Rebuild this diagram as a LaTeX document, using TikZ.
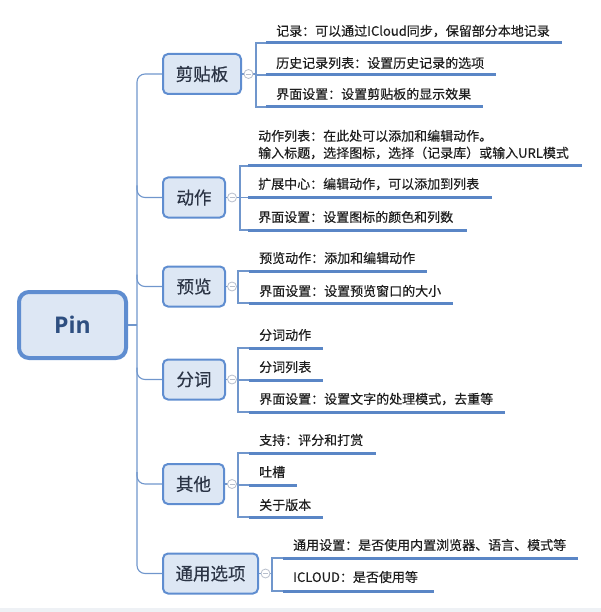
\documentclass[tikz,border=0pt]{standalone}
\usepackage{fontspec}
\setmainfont{Noto Sans CJK SC}[FakeBold=0.35]
\newfontfamily\pinfont{Open Sans}
\definecolor{boxf}{HTML}{DDE7F4}
\definecolor{boxd}{HTML}{5F8DD0}
\definecolor{pintext}{HTML}{2E4F80}
\definecolor{brtext}{HTML}{2B3445}
\definecolor{leaftext}{HTML}{1E1E1E}
\definecolor{ulc}{HTML}{5A86C6}
\definecolor{connc}{HTML}{7096CC}
\definecolor{knobc}{HTML}{B8BFCC}
\definecolor{bandc}{HTML}{EEF1F5}
\begin{document}
\begin{tikzpicture}[x=1pt,y=-1pt,
  conn/.style={draw=connc, line width=1.1pt},
  uline/.style={draw=ulc, line width=3pt},
  branch/.style={draw=boxd, fill=boxf, line width=2pt, rounded corners=5pt, inner sep=0pt,
    minimum height=40pt, font=\fontsize{17.5}{20}\selectfont, text=brtext},
  leaf/.style={inner sep=0pt, anchor=west, font=\fontsize{13}{17}\selectfont, text=leaftext, align=left},
  knob/.style={circle, draw=knobc, fill=white, line width=0.8pt, minimum size=9pt, inner sep=0pt,
    path picture={\draw[knobc, line width=0.8pt] ([xshift=-2.5pt]path picture bounding box.center) -- ([xshift=2.5pt]path picture bounding box.center);}},
]
\useasboundingbox (0,0) rectangle (601,612);
\fill[bandc] (0,608) rectangle (601,612);

% root
\node[draw=boxd, fill=boxf, line width=4pt, rounded corners=10pt, minimum width=107pt, minimum height=66pt,
  inner sep=0pt, text=pintext, font=\pinfont\bfseries\fontsize{23}{26}\selectfont] (root) at (72.5,325) {Pin};
\coordinate (tr) at (137,325);

% branches
\node[branch, minimum width=78pt] (b1) at (202,74) {剪贴板};
\node[branch, minimum width=62pt] (b2) at (194,197.5) {动作};
\node[branch, minimum width=62pt] (b3) at (194,286.5) {预览};
\node[branch, minimum width=62pt] (b4) at (194,379.5) {分词};
\node[branch, minimum width=61pt] (b5) at (193.5,484) {其他};
\node[branch, minimum width=95pt] (b6) at (210.5,573.5) {通用选项};

% trunk
\draw[conn] (root.east) -- (root.east -| tr);
\draw[conn, rounded corners=8pt] (b1.west) -| (tr) |- (b6.west);
\draw[conn, rounded corners=8pt] ([yshift=12pt]b2.west -| tr) |- (b2.west);
\draw[conn, rounded corners=8pt] ([yshift=12pt]b3.west -| tr) |- (b3.west);
\draw[conn, rounded corners=8pt] ([yshift=12pt]b4.west -| tr) |- (b4.west);
\draw[conn, rounded corners=8pt] ([yshift=12pt]b5.west -| tr) |- (b5.west);

% ---------- branch 1 leaves
\node[leaf] (l11) at (276,31) {记录：可以通过ICloud同步，保留部分本地记录};
\node[leaf] (l12) at (276,63) {历史记录列表：设置历史记录的选项};
\node[leaf] (l13) at (276,94) {界面设置：设置剪贴板的显示效果};
\coordinate (u11s) at (266,43); \coordinate (u11e) at (562,43);
\coordinate (u12s) at (266,75); \coordinate (u12e) at (496,75);
\coordinate (u13s) at (266,107); \coordinate (u13e) at (483,107);
\coordinate (v1) at (256,74);
\draw[conn] (u11s) -- (u11s -| v1) -- (u13s -| v1) -- (u13s);
\draw[conn] (b1.east) -- (b1.east -| v1);
\draw[conn] (u12s -| v1) -- (u12s);
\draw[uline] (u11s) -- (u11e);
\draw[uline] (u12s) -- (u12e);
\draw[uline] (u13s) -- (u13e);
\node[knob] (k1) at (248.5,74) {};

% ---------- branch 2 leaves
\node[leaf] (l21) at (258,144.5) {动作列表：在此处可以添加和编辑动作。\\输入标题，选择图标，选择（记录库）或输入URL模式};
\node[leaf] (l22) at (258,184) {扩展中心：编辑动作，可以添加到列表};
\node[leaf] (l23) at (258,217) {界面设置：设置图标的颜色和列数};
\coordinate (u21s) at (248,166); \coordinate (u21e) at (582,166);
\coordinate (u22s) at (248,197.5); \coordinate (u22e) at (492,197.5);
\coordinate (u23s) at (248,230); \coordinate (u23e) at (467,230);
\coordinate (v2) at (240,197);
\draw[conn] (u21s) -- (u21s -| v2) -- (u23s -| v2) -- (u23s);
\draw[conn] (b2.east) -- (b2.east -| v2);
\draw[conn] (u22s -| v2) -- (u22s);
\draw[uline] (u21s) -- (u21e);
\draw[uline] (u22s) -- (u22e);
\draw[uline] (u23s) -- (u23e);
\node[knob] (k2) at (232,197.5) {};

% ---------- branch 3 leaves
\node[leaf] (l31) at (259,258) {预览动作：添加和编辑动作};
\node[leaf] (l32) at (259,291) {界面设置：设置预览窗口的大小};
\coordinate (u31s) at (249,271); \coordinate (u31e) at (427,271);
\coordinate (u32s) at (249,303); \coordinate (u32e) at (453,303);
\coordinate (v3) at (238,287);
\draw[conn] (u31s) -- (u31s -| v3) -- (u32s -| v3) -- (u32s);
\draw[conn] (b3.east) -- (b3.east -| v3);
\draw[uline] (u31s) -- (u31e);
\draw[uline] (u32s) -- (u32e);
\node[knob] (k3) at (232,286.5) {};

% ---------- branch 4 leaves
\node[leaf] (l41) at (259,335) {分词动作};
\node[leaf] (l42) at (259,367) {分词列表};
\node[leaf] (l43) at (259,399) {界面设置：设置文字的处理模式，去重等};
\coordinate (u41s) at (249,348); \coordinate (u41e) at (323,348);
\coordinate (u42s) at (249,380); \coordinate (u42e) at (323,380);
\coordinate (u43s) at (249,412); \coordinate (u43e) at (505,412);
\coordinate (v4) at (238,380);
\draw[conn] (u41s) -- (u41s -| v4) -- (u43s -| v4) -- (u43s);
\draw[conn] (b4.east) -- (b4.east -| v4);
\draw[conn] (u42s -| v4) -- (u42s);
\draw[uline] (u41s) -- (u41e);
\draw[uline] (u42s) -- (u42e);
\draw[uline] (u43s) -- (u43e);
\node[knob] (k4) at (232,379.5) {};

% ---------- branch 5 leaves
\node[leaf] (l51) at (259,440) {支持：评分和打赏};
\node[leaf] (l52) at (259,472) {吐槽};
\node[leaf] (l53) at (259,505) {关于版本};
\coordinate (u51s) at (249,453); \coordinate (u51e) at (376,453);
\coordinate (u52s) at (249,485); \coordinate (u52e) at (297,485);
\coordinate (u53s) at (249,517); \coordinate (u53e) at (323,517);
\coordinate (v5) at (238,485);
\draw[conn] (u51s) -- (u51s -| v5) -- (u53s -| v5) -- (u53s);
\draw[conn] (b5.east) -- (b5.east -| v5);
\draw[conn] (u52s -| v5) -- (u52s);
\draw[uline] (u51s) -- (u51e);
\draw[uline] (u52s) -- (u52e);
\draw[uline] (u53s) -- (u53e);
\node[knob] (k5) at (232,484) {};

% ---------- branch 6 leaves
\node[leaf] (l61) at (293,545) {通用设置：是否使用内置浏览器、语言、模式等};
\node[leaf] (l62) at (293,577) {ICLOUD：是否使用等};
\coordinate (u61s) at (283,558); \coordinate (u61e) at (578,558);
\coordinate (u62s) at (283,591); \coordinate (u62e) at (434,591);
\coordinate (v6) at (272,574);
\draw[conn] (u61s) -- (u61s -| v6) -- (u62s -| v6) -- (u62s);
\draw[conn] (b6.east) -- (b6.east -| v6);
\draw[uline] (u61s) -- (u61e);
\draw[uline] (u62s) -- (u62e);
\node[knob] (k6) at (265.5,573.5) {};
\end{tikzpicture}
\end{document}
